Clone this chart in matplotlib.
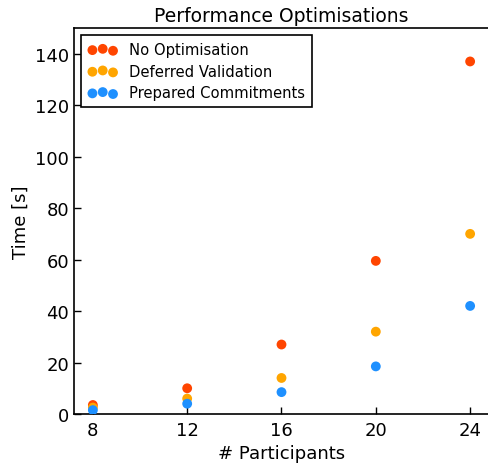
import matplotlib
matplotlib.use("Agg")
import matplotlib.pyplot as plt

participants = [8, 12, 16, 20, 24]
no_opt = [3.5, 10, 27, 59.5, 137]
deferred = [2.5, 6, 14, 32, 70]
prepared = [1.5, 4, 8.5, 18.5, 42]
labels = ["No Optimisation", "Deferred Validation", "Prepared Commitments"]
colors = ["#FF4500", "#FFA500", "#1E90FF"]

fig = plt.figure(figsize=(4.89, 4.64), dpi=100)
ax = fig.add_axes([74/489, 1-415/464, (489-74)/489, (415-29)/464])
for ys, lab, c in zip([no_opt, deferred, prepared], labels, colors):
    ax.scatter(participants, ys, s=50, color=c, edgecolors='none', label=lab, zorder=3)

ax.set_xlim(7.2, 24.8)
ax.set_ylim(0, 150)
ax.set_xticks(participants)
ax.set_yticks(range(0, 141, 20))
ax.tick_params(direction='in', labelsize=13, length=5, width=1)
ax.tick_params(axis='x', pad=5)
ax.set_xlabel("# Participants", fontsize=13, labelpad=4)
ax.set_ylabel("Time [s]", fontsize=13)
ax.set_title("Performance Optimisations", fontsize=13.5, pad=5)
for s in ax.spines.values():
    s.set_linewidth(1.2)
leg = ax.legend(loc='upper left', scatterpoints=3, fontsize=10.6, fancybox=False,
                edgecolor='black', framealpha=1, borderaxespad=0.5, handletextpad=0.8,
                handlelength=2.0, borderpad=0.45, labelspacing=0.45)
leg.get_frame().set_linewidth(1.2)
fig.savefig("out.png", dpi=100)
